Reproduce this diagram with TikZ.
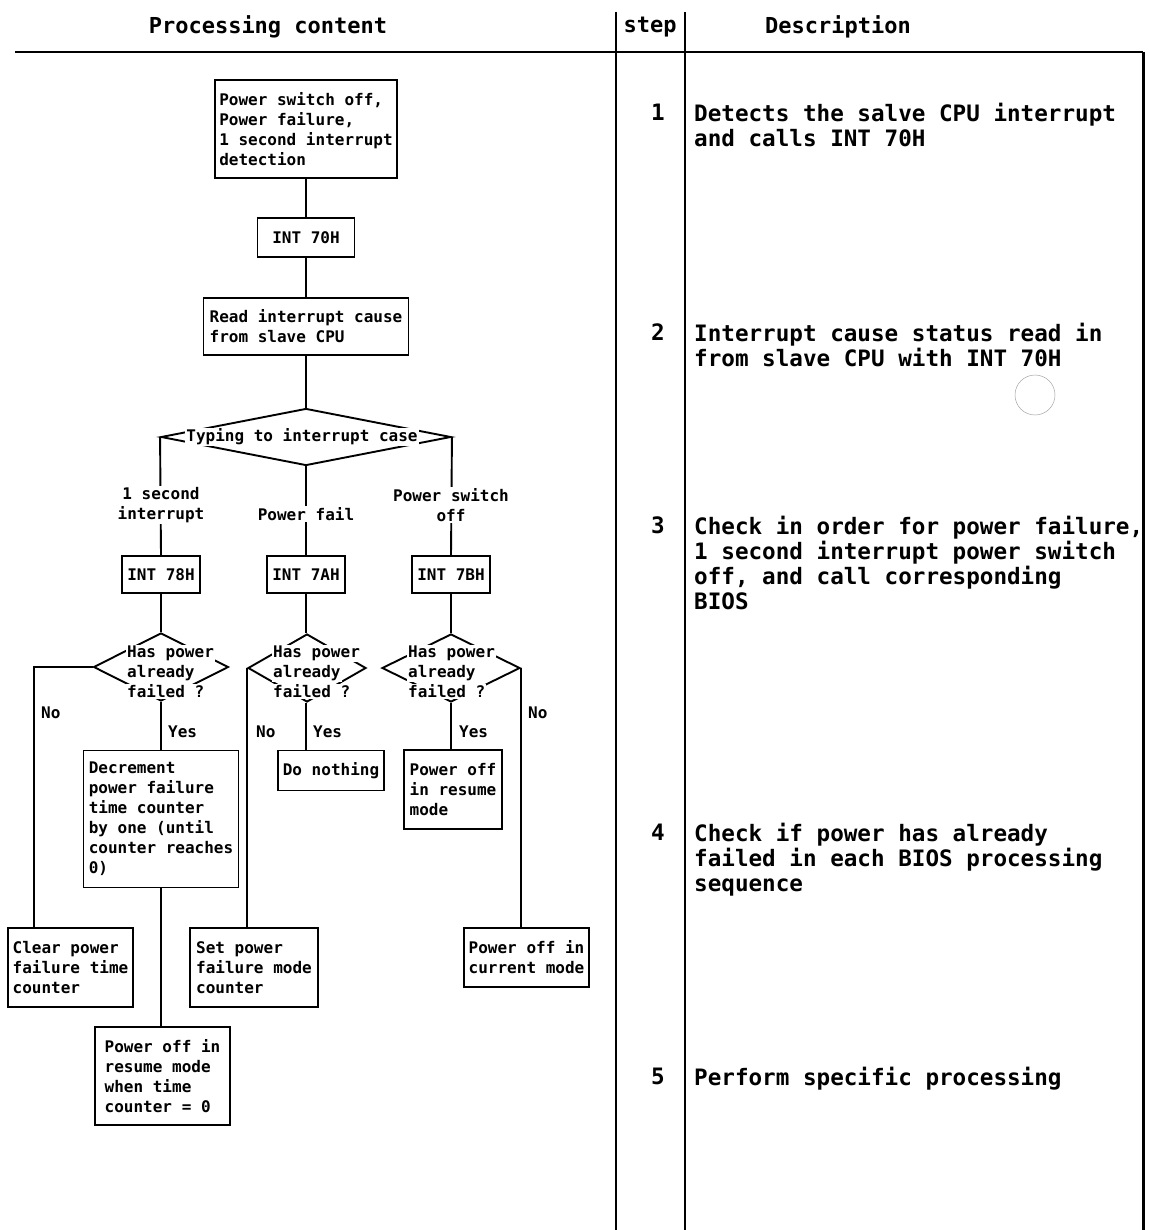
\documentclass[tikz,border=0pt]{standalone}
\usepackage{fontspec}
\setmonofont{DejaVu Sans Mono}
\usetikzlibrary{shapes.geometric}
\newcommand\wln[1]{{\setlength{\fboxsep}{1pt}\colorbox{white}{#1}}}
\begin{document}
\begin{tikzpicture}[x=1pt,y=-1pt,
  fc/.style={font=\ttfamily\bfseries\fontsize{16}{20}\selectfont},
  pbox/.style={draw, line width=1.9pt, fc, align=left, inner xsep=4pt, inner ysep=0pt},
  dec/.style={draw, diamond, line width=1.9pt, inner sep=0pt},
  dtext/.style={fc, align=left, inner sep=0pt, anchor=west},
  conn/.style={line width=1.9pt},
  blab/.style={fc, fill=white, align=center, inner sep=1pt},
  yn/.style={fc, inner sep=0pt, anchor=west},
  hdr/.style={font=\ttfamily\bfseries\fontsize{22}{25}\selectfont, inner sep=0pt},
  stepno/.style={font=\ttfamily\bfseries\fontsize{22.6}{25}\selectfont, inner sep=0pt},
  desc/.style={font=\ttfamily\bfseries\fontsize{22.6}{25}\selectfont, align=left, inner sep=0pt, anchor=north west},
  rule/.style={line width=2.4pt}
]
\useasboundingbox[fill=white] (0,0) rectangle (1149,1230);

% table frame
\coordinate (hl) at (15,52);
\coordinate (hr) at (1143,52);
\coordinate (c1t) at (616,12);
\coordinate (c1b) at (616,1230);
\coordinate (c2t) at (685,12);
\coordinate (c2b) at (685,1230);
\coordinate (rbt) at (1143,52);
\coordinate (rbb) at (1143,1230);
\draw[rule] (hl) -- (hr);
\draw[rule] (c1t) -- (c1b);
\draw[rule] (c2t) -- (c2b);
\draw[line width=3pt] (rbt) -- (rbb);

\node[hdr] (h1) at (268,27) {Processing content};
\node[hdr] (h2) at (650,27) {step};
\node[hdr] (h3) at (838,27) {Description};

% spine
\node[pbox, minimum width=181, minimum height=98] (b1) at (306,129)
  {Power switch off,\\Power failure,\\1 second interrupt\\detection};
\node[pbox, minimum width=97, minimum height=39, align=center] (i70) at (306,237.5) {INT 70H};
\node[pbox, minimum width=205, minimum height=57] (rd) at (306,326.5)
  {Read interrupt cause\\from slave CPU};
\node[dec, minimum width=290, minimum height=57] (dT) at (306,437) {};

\node[pbox, minimum width=78, minimum height=37, align=center] (i78) at (161,574.5) {INT 78H};
\node[pbox, minimum width=78, minimum height=37, align=center] (i7A) at (306,574.5) {INT 7AH};
\node[pbox, minimum width=78, minimum height=37, align=center] (i7B) at (451,574.5) {INT 7BH};

\node[dec, minimum width=135, minimum height=68] (dA) at (161,667) {};
\node[dec, minimum width=118, minimum height=68] (dB) at (307,668) {};
\node[dec, minimum width=138, minimum height=68] (dC) at (451,668) {};

\node[pbox, minimum width=155, minimum height=137] (dcr) at (161,819)
  {Decrement\\power failure\\time counter\\by one (until\\counter reaches\\0)};
\node[pbox, minimum width=125, minimum height=79] (clr) at (70.5,967.5)
  {Clear power\\failure time\\counter};
\node[pbox, minimum width=135, minimum height=98] (pr) at (162.5,1076)
  {Power off in\\resume mode\\when time\\counter = 0};
\node[pbox, minimum width=106, minimum height=40] (dn) at (331,770.5) {Do nothing};
\node[pbox, minimum width=128, minimum height=79] (sp) at (254,967.5)
  {Set power\\failure mode\\counter};
\node[pbox, minimum width=98, minimum height=79] (pc) at (453,789.5)
  {Power off\\in resume\\mode};
\node[pbox, minimum width=125, minimum height=59] (cur) at (526.5,957.5)
  {Power off in\\current mode};

% connectors
\draw[conn] (b1.south) -- (i70.north);
\draw[conn] (i70.south) -- (rd.north);
\draw[conn] (rd.south) -- (dT.north);
\draw[conn] (dT.west) -- (i78.north);
\draw[conn] (dT.south) -- (i7A.north);
\draw[conn] (dT.east) -- (i7B.north);
\draw[conn] (i78.south) -- (dA.north);
\draw[conn] (i7A.south) -- (i7A.south |- dB.north);
\draw[conn] (i7B.south) -- (dC.north);
\draw[conn] (dA.west) -| ([xshift=27pt]clr.north west);
\draw[conn] (dA.south) -- (dcr.north);
\draw[conn] (dcr.south) -- (dcr.south |- pr.north);
\draw[conn] (dB.west) -- (dB.west |- sp.north);
\draw[conn] (i7A.south |- dB.south) -- (i7A.south |- dn.north);
\draw[conn] (dC.south) -- (dC.south |- pc.north);
\draw[conn] (dC.east) -- (dC.east |- cur.north);

% decision texts (each line masks the outline behind it, as in the print)
\node[fc, fill=white, inner sep=1pt] (tT) at (302,437) {Typing to interrupt case};
\node[dtext] (tA) at (126,672) {\wln{Has power}\\\wln{already}\\\wln{failed ?}};
\node[dtext] (tB) at (272,672) {\wln{Has power}\\\wln{already}\\\wln{failed ?}};
\node[dtext] (tC) at (407,672) {\wln{Has power}\\\wln{already}\\\wln{failed ?}};

% branch labels
\node[blab] (l1) at (161,505) {1 second\\interrupt};
\node[blab] (l2) at (306,514) {Power fail};
\node[blab] (l3) at (451,505) {Power switch\\off};

\node[yn] (nA) at (41,713) {No};
\node[yn] (yA) at (168,732) {Yes};
\node[yn] (nB) at (256,732) {No};
\node[yn] (yB) at (313,732) {Yes};
\node[yn] (yC) at (459,732) {Yes};
\node[yn] (nC) at (528,713) {No};

% steps
\node[stepno] (s1) at (658,112) {1};
\node[stepno] (s2) at (658,332) {2};
\node[stepno] (s3) at (658,525) {3};
\node[stepno] (s4) at (658,832) {4};
\node[stepno] (s5) at (658,1076) {5};

\node[desc] (d1) at (694,103) {Detects the salve CPU interrupt\\and calls INT 70H};
\node[desc] (d2) at (694,323) {Interrupt cause status read in\\from slave CPU with INT 70H};
\node[desc] (d3) at (694,516) {Check in order for power failure,\\1 second interrupt power switch\\off, and call corresponding\\BIOS};
\node[desc] (d4) at (694,823) {Check if power has already\\failed in each BIOS processing\\sequence};
\node[desc] (d5) at (694,1067) {Perform specific processing};

% stray pen mark in the scan
\draw[line width=0.5pt, gray!70] (1035,395) circle [radius=20];
\end{tikzpicture}
\end{document}
